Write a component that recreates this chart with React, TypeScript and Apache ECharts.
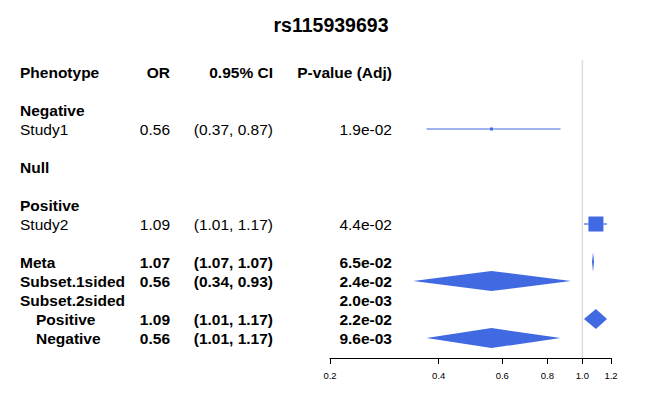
import React, { useEffect, useRef } from "react";
import * as echarts from "echarts";

const title = "rs115939693";
const headers = ["Phenotype", "OR", "0.95% CI", "P-value (Adj)"];
const labels = ["Negative", "Study1", "Null", "Positive", "Study2", "Meta", "Subset.1sided", "Subset.2sided", "Positive", "Negative"];
const rowIdx = [2, 3, 5, 7, 8, 10, 11, 12, 13, 14];
const orText = ["", "0.56", "", "", "1.09", "1.07", "0.56", "", "1.09", "0.56"];
const ciText = ["", "(0.37, 0.87)", "", "", "(1.01, 1.17)", "(1.07, 1.07)", "(0.34, 0.93)", "", "(1.01, 1.17)", "(1.01, 1.17)"];
const pText = ["", "1.9e-02", "", "", "4.4e-02", "6.5e-02", "2.4e-02", "2.0e-03", "2.2e-02", "9.6e-03"];
const boldRow = [true, false, true, true, false, true, true, true, true, true];
const indentRow = [false, false, false, false, false, false, false, false, true, true];

const markRow = [3, 8, 10, 11, 13, 14];
const markEst = [0.56, 1.09, 1.07, 0.56, 1.09, 0.56];
const markLo = [0.37, 1.01, 1.07, 0.34, 1.01, 0.37];
const markHi = [0.87, 1.17, 1.07, 0.93, 1.17, 0.87];
const markKind = ["point", "box", "diamond", "diamond", "diamond", "diamond"];
const boxSize = [3, 15, 0, 0, 0, 0];

const tickVals = [0.2, 0.4, 0.6, 0.8, 1.0, 1.2];

const BLUE = "#4169E1";
const FONT = "Liberation Sans, Arial, sans-serif";

export default function App() {
  const ref = useRef<HTMLDivElement>(null);
  useEffect(() => {
    const chart = echarts.init(ref.current!, null, { renderer: "svg" });
    const rowY = (i: number) => 72 + 19 * i;
    const g: any[] = [];
    g.push({ type: "text", x: 331, y: 25, style: { text: title, font: `bold 19.5px ${FONT}`, fill: "#000", align: "center", verticalAlign: "middle" } });
    const colX = [20, 170, 273, 392];
    const colAlign = ["left", "right", "right", "right"];
    headers.forEach((h, c) => g.push({ type: "text", x: colX[c], y: rowY(0), style: { text: h, font: `bold 15.5px ${FONT}`, fill: "#000", align: colAlign[c], verticalAlign: "middle" } }));
    labels.forEach((l, k) => {
      const f = `${boldRow[k] ? "bold " : ""}15.5px ${FONT}`;
      const y = rowY(rowIdx[k]);
      const cells = [l, orText[k], ciText[k], pText[k]];
      cells.forEach((t, c) => {
        if (!t) return;
        g.push({ type: "text", x: c === 0 && indentRow[k] ? 36 : colX[c], y, style: { text: t, font: f, fill: "#000", align: colAlign[c], verticalAlign: "middle" } });
      });
    });
    const data = markRow.map((r, i) => [Math.log(markEst[i]), r, Math.log(markLo[i]), Math.log(markHi[i]), i]);
    chart.setOption({
      animation: false,
      grid: { left: 330, right: 35, top: 60, bottom: 42 },
      xAxis: {
        type: "value", position: "bottom", min: Math.log(0.2), max: Math.log(1.2),
        splitLine: { show: false },
        axisLine: { onZero: false, lineStyle: { color: "#000" } },
        axisTick: { show: true, length: 6, customValues: tickVals.map(Math.log), lineStyle: { color: "#000" } },
        axisLabel: { customValues: tickVals.map(Math.log), fontSize: 9.5, color: "#000", fontFamily: FONT, margin: 12,
          formatter: (v: number) => Math.exp(v).toFixed(1) },
      },
      yAxis: { type: "value", inverse: true, min: -0.63, max: 15.05, show: false },
      series: [
        { type: "line", data: [[0, -0.63], [0, 15.05]], symbol: "none", lineStyle: { color: "#ddd", width: 1.5 }, silent: true, z: 1 },
        {
          type: "custom", z: 3, data,
          renderItem: (_p: any, api: any) => {
            const i = api.value(4);
            const c = api.coord([api.value(0), api.value(1)]);
            const lo = api.coord([api.value(2), api.value(1)]);
            const hi = api.coord([api.value(3), api.value(1)]);
            const kind = markKind[i];
            if (kind === "diamond") {
              const hh = 10;
              let l = lo[0], r = hi[0];
              if (r - l < 2) { l = c[0] - 1; r = c[0] + 1; }
              return { type: "polygon", shape: { points: [[l, c[1]], [c[0], c[1] - hh], [r, c[1]], [c[0], c[1] + hh]] }, style: { fill: BLUE } };
            }
            const s = boxSize[i];
            return {
              type: "group", children: [
                { type: "line", shape: { x1: lo[0], y1: c[1], x2: hi[0], y2: c[1] }, style: { stroke: BLUE, lineWidth: 1.2 } },
                { type: "rect", shape: { x: c[0] - s / 2, y: c[1] - s / 2, width: s, height: s }, style: { fill: BLUE } },
              ],
            };
          },
        },
      ],
      graphic: g,
    });
    return () => chart.dispose();
  }, []);
  return <div ref={ref} style={{ width: 646, height: 400, position: "absolute", left: 0, top: 0 }} />;
}
